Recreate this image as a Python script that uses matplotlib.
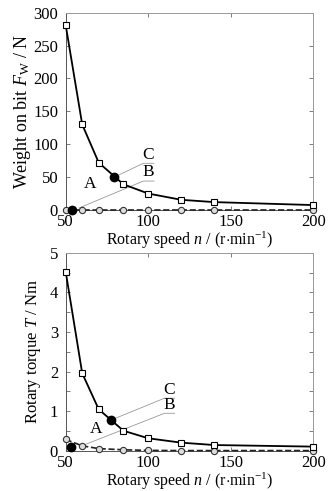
import matplotlib.pyplot as plt
from matplotlib.ticker import MultipleLocator

plt.rcParams['font.family'] = ['Liberation Serif', 'DejaVu Serif']
plt.rcParams['mathtext.fontset'] = 'custom'
plt.rcParams['mathtext.rm'] = 'Liberation Serif'
plt.rcParams['mathtext.it'] = 'Liberation Serif:italic'

speed = [50, 60, 70, 85, 100, 120, 140, 200]

# top panel: weight on bit
wob_b = [281, 130, 72, 39, 25, 15.5, 12, 7.5]
wob_c = [0, 0, 0, 0, 0, 0, 0, 0]
wob_a_pt = (54, 0)
wob_c_pt = (79.5, 50)

# bottom panel: torque
tq_b = [4.52, 1.96, 1.05, 0.51, 0.32, 0.21, 0.15, 0.11]
tq_c = [0.29, 0.13, 0.06, 0.03, 0.015, 0.01, 0.01, 0.01]
tq_a_pt = (53.2, 0.09)
tq_c_pt = (77.5, 0.78)

fig = plt.figure(figsize=(3.31, 4.91), dpi=100)
ax1 = fig.add_axes([0.1985, 0.5723, 0.748, 0.4019])
ax2 = fig.add_axes([0.1985, 0.0815, 0.748, 0.4039])


def style(ax):
    for s in ['top', 'right']:
        ax.spines[s].set_color('#999999')
    for s in ['left', 'bottom']:
        ax.spines[s].set_color('#555555')
    for s in ax.spines.values():
        s.set_linewidth(0.7)
    ax.tick_params(direction='in', which='both', top=True, right=True,
                   length=3, width=0.6, color='#666666', labelsize=12)
    ax.tick_params(axis='x', pad=3)
    ax.tick_params(axis='y', pad=5.5)
    ax.set_xlim(50, 200)
    ax.set_xticks([50, 100, 150, 200])
    ax.set_xlabel(r'Rotary speed $n$ / (r$\cdot$min$^{-1}$)', fontsize=11.5, labelpad=0)


# top
ax1.plot(speed, wob_c, '--', color='#222222', lw=1.2, marker='o', ms=4.5,
         mfc='#dddddd', mec='#333333', mew=0.8, clip_on=False, zorder=3)
ax1.plot(speed, wob_b, '-', color='black', lw=1.3, marker='s', ms=5,
         mfc='white', mec='black', mew=0.8, clip_on=False, zorder=4)
ax1.plot(*wob_a_pt, 'o', color='black', ms=6, clip_on=False, zorder=5)
ax1.plot(*wob_c_pt, 'o', color='black', ms=6, clip_on=False, zorder=5)
ax1.plot([79.5, 97, 103.5], [50, 71, 71], color='#999999', lw=0.6, zorder=2)
ax1.plot([58, 97, 103.5], [3, 44, 44], color='#999999', lw=0.6, zorder=2)
ax1.text(100, 72, 'C', fontsize=12.5, ha='center', va='bottom')
ax1.text(100, 45, 'B', fontsize=12.5, ha='center', va='bottom')
ax1.text(64.7, 39, 'A', fontsize=12.5, ha='center', va='center')
ax1.set_ylim(0, 300)
ax1.set_yticks([0, 50, 100, 150, 200, 250, 300])
ax1.set_ylabel(r'Weight on bit $F_{\mathrm{W}}$ / N', fontsize=13, labelpad=0)
style(ax1)

# bottom
ax2.plot(speed, tq_c, '--', color='#222222', lw=1.2, marker='o', ms=4.5,
         mfc='#dddddd', mec='#333333', mew=0.8, clip_on=False, zorder=3)
ax2.plot(speed, tq_b, '-', color='black', lw=1.3, marker='s', ms=5,
         mfc='white', mec='black', mew=0.8, clip_on=False, zorder=4)
ax2.plot(*tq_a_pt, 'o', color='black', ms=6, clip_on=False, zorder=5)
ax2.plot(*tq_c_pt, 'o', color='black', ms=6, clip_on=False, zorder=5)
ax2.plot([77.5, 109.8, 116], [0.78, 1.33, 1.33], color='#999999', lw=0.6, zorder=2)
ax2.plot([61, 109.8, 116], [0.15, 0.95, 0.95], color='#999999', lw=0.6, zorder=2)
ax2.text(112.8, 1.34, 'C', fontsize=12.5, ha='center', va='bottom')
ax2.text(112.8, 0.96, 'B', fontsize=12.5, ha='center', va='bottom')
ax2.text(68.4, 0.55, 'A', fontsize=12.5, ha='center', va='center')
ax2.set_ylim(0, 5)
ax2.set_yticks([0, 1, 2, 3, 4, 5])
ax2.yaxis.set_minor_locator(MultipleLocator(0.5))
ax2.set_ylabel(r'Rotary torque $T$ / Nm', fontsize=12, labelpad=5)
style(ax2)

fig.savefig('out.png', dpi=100)
